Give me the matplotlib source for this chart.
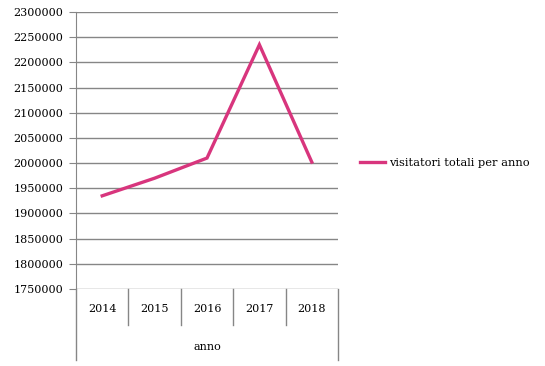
import matplotlib
matplotlib.use('Agg')
import matplotlib.pyplot as plt

years = ['2014', '2015', '2016', '2017', '2018']
visitors = [1935000, 1970000, 2010000, 2235000, 2002000]
series_name = 'visitatori totali per anno'
group_label = 'anno'

LINE_COLOR = '#d8357d'
GRID_COLOR = '#868686'

plt.rcParams['font.family'] = 'DejaVu Serif'
plt.rcParams['font.size'] = 8


def main():
    fig = plt.figure(figsize=(5.45, 3.66), dpi=100)
    W, H = 545, 366
    left, right, top, bottom = 76, 338, 12, 289
    ax = fig.add_axes([left / W, 1 - bottom / H, (right - left) / W, (bottom - top) / H])

    x = list(range(len(years)))
    ax.plot(x, visitors, color=LINE_COLOR, lw=2.4, solid_joinstyle='miter',
            label=series_name)

    ax.set_xlim(-0.5, len(years) - 0.5)
    ax.set_ylim(1750000, 2300000)
    ax.set_yticks(range(1750000, 2300001, 50000))
    ax.yaxis.set_major_formatter(matplotlib.ticker.FuncFormatter(lambda v, p: '%d' % v))
    ax.grid(axis='y', color=GRID_COLOR, lw=1)
    ax.set_axisbelow(True)
    for s in ['top', 'right', 'bottom']:
        ax.spines[s].set_visible(False)
    ax.spines['left'].set_color(GRID_COLOR)
    ax.tick_params(axis='y', length=5, color=GRID_COLOR, pad=4, labelcolor='black')

    ax.set_xticks(x)
    ax.set_xticklabels(years)
    ax.tick_params(axis='x', length=0, pad=11)

    # category table below the plot
    h = bottom - top
    sep = -(325 - bottom) / h
    outer = -(360 - bottom) / h
    n = len(years)
    for i in range(n + 1):
        xa = i / n
        y0 = outer if i in (0, n) else sep
        ax.plot([xa, xa], [0, y0], transform=ax.transAxes, color=GRID_COLOR,
                lw=1, clip_on=False)
    ax.text(0.5, -(347 - bottom) / h, group_label, transform=ax.transAxes,
            ha='center', va='center')

    ax.legend(loc='center left', bbox_to_anchor=((355 - left) / (right - left), (bottom - 163) / h),
              frameon=False, handlelength=2.2, handletextpad=0.4, borderaxespad=0,
              fontsize=8.2)

    fig.savefig('out.png', dpi=100)


if __name__ == '__main__':
    main()
